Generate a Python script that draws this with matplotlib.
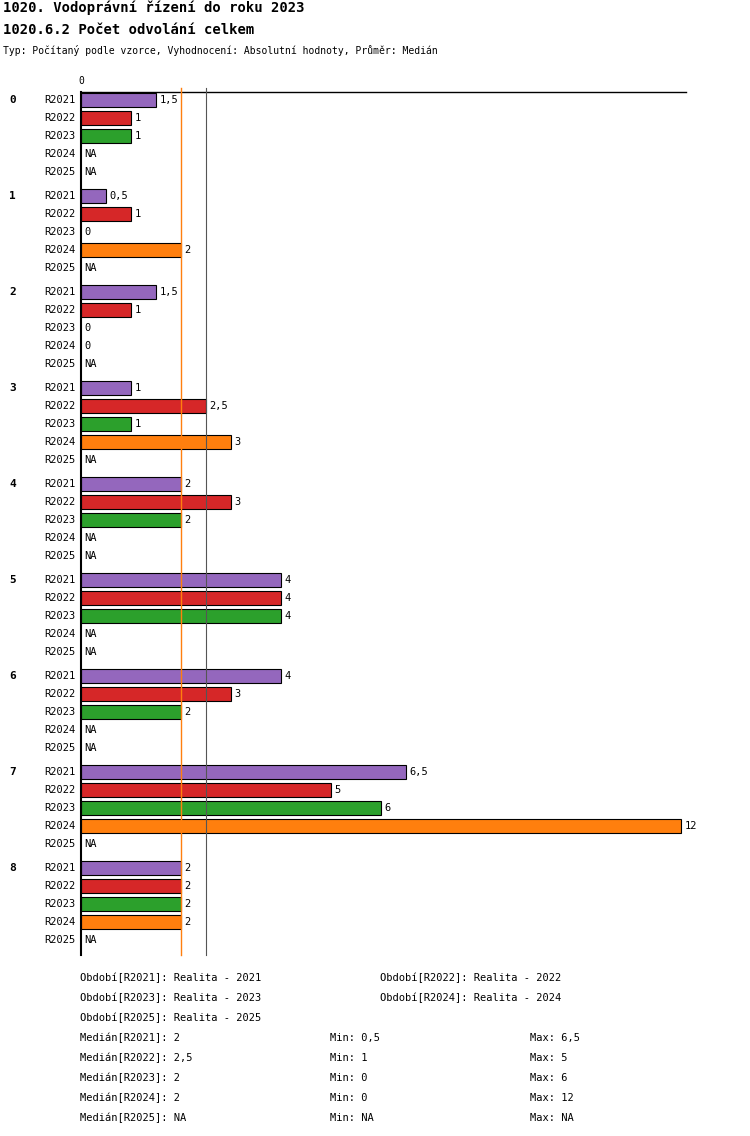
import matplotlib
matplotlib.use("Agg")
import matplotlib.pyplot as plt
import numpy as np

groups = ["0","1","2","3","4","5","6","7","8"]
series = ["R2021","R2022","R2023","R2024","R2025"]
colors = ["#9467bd","#d62728","#2ca02c","#ff7f0e","#1f77b4"]
N = None
values = {
 "R2021":[1.5,0.5,1.5,1,2,4,4,6.5,2],
 "R2022":[1,1,1,2.5,3,4,3,5,2],
 "R2023":[1,0,0,1,2,4,2,6,2],
 "R2024":[N,2,0,3,N,N,N,12,2],
 "R2025":[N,N,N,N,N,N,N,N,N],
}
median_line = 2
mean_line = 2.5

W,H = 750,1136
fig = plt.figure(figsize=(W/100,H/100), dpi=100)
mono = "DejaVu Sans Mono"
plt.rcParams['font.family'] = mono
top, bot = 92, 955
ax = fig.add_axes([81/W, 1-bot/H, 605/W, (bot-top)/H])
ax.set_xlim(0, 12*605/600)
ax.set_ylim(bot, top)
ax.axis('off')
ax.plot([0,0],[top,bot],color='black',lw=1.5,clip_on=False)
ax.plot([0,12*605/600],[top,top],color='black',lw=1,clip_on=False)
ax.text(0,top-6,"0",fontsize=7,ha='center',va='bottom')
ax.plot([median_line]*2,[top-4,bot],color='#ff7f0e',lw=1,clip_on=False)
ax.plot([mean_line]*2,[top-4,bot],color='#555555',lw=0.8,clip_on=False)

def fmt(v):
    s = ("%g" % v).replace(".", ",")
    return s
for g in range(len(groups)):
    y0 = 100 + g*96
    fig.text(9/W, 1-y0/H, groups[g], fontsize=8, fontweight='bold', va='center')
    for i,s in enumerate(series):
        y = y0 + i*18
        fig.text(44/W, 1-y/H, s, fontsize=7.5, va='center')
        v = values[s][g]
        if v is None:
            ax.text(0.07, y, "NA", fontsize=7.5, va='center')
            continue
        if v > 0:
            ax.barh(y, v, height=14, color=colors[i], edgecolor='black', lw=0.8)
        ax.text(v+0.07, y, fmt(v), fontsize=7.5, va='center')

fig.text(3/W, 1-8/H, "1020. Vodoprávní řízení do roku 2023", fontsize=10, fontweight='bold', va='center')
fig.text(3/W, 1-30/H, "1020.6.2 Počet odvolání celkem", fontsize=10, fontweight='bold', va='center')
fig.text(3/W, 1-50/H, "Typ: Počítaný podle vzorce, Vyhodnocení: Absolutní hodnoty, Průměr: Medián", fontsize=7, va='center')

leg = [(80,978,"Období[R2021]: Realita - 2021"),(380,978,"Období[R2022]: Realita - 2022"),
       (80,998,"Období[R2023]: Realita - 2023"),(380,998,"Období[R2024]: Realita - 2024"),
       (80,1018,"Období[R2025]: Realita - 2025")]
for x,y,t in leg:
    fig.text(x/W,1-y/H,t,fontsize=7.5,va='center')
stats = [("2","0,5","6,5"),("2,5","1","5"),("2","0","6"),("2","0","12"),("NA","NA","NA")]
for i,(s,(m,mn,mx)) in enumerate(zip(series,stats)):
    y = 1038 + i*20
    fig.text(80/W,1-y/H,f"Medián[{s}]: {m}",fontsize=7.5,va='center')
    fig.text(330/W,1-y/H,f"Min: {mn}",fontsize=7.5,va='center')
    fig.text(530/W,1-y/H,f"Max: {mx}",fontsize=7.5,va='center')

fig.savefig("out.png", dpi=100, facecolor='white')
